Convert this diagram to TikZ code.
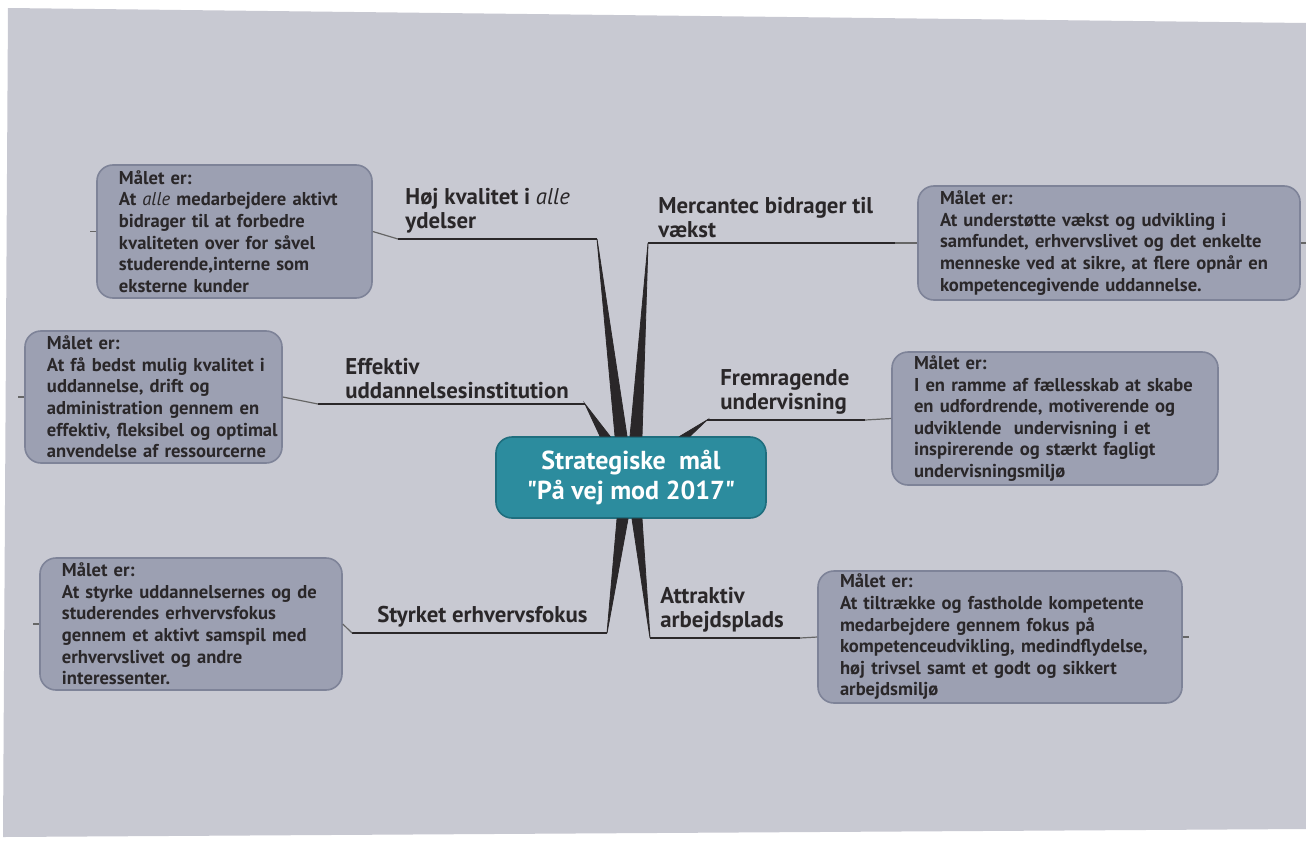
\documentclass[tikz,border=0pt]{standalone}
\usepackage{fontspec}
\setmainfont{PT Sans}
\newfontfamily\quotefont{PT Sans}
\usepackage{tikz}
\usetikzlibrary{calc}
\definecolor{slidegray}{HTML}{C8C9D2}
\definecolor{boxfill}{HTML}{9CA0B2}
\definecolor{boxedge}{HTML}{7E8398}
\definecolor{teal}{HTML}{2C8C9E}
\definecolor{tealedge}{HTML}{1F6E7E}
\definecolor{inkdark}{HTML}{2A2729}
\newcommand{\boxfont}{\bfseries\fontsize{9.3}{10.8}\selectfont}
\newcommand{\labelfont}{\bfseries\fontsize{11.4}{12}\selectfont}
\newcommand{\qmark}{{\quotefont"}}

\begin{document}
\begin{tikzpicture}[scale=0.175726]
\tikzstyle{goalbox}=[draw=boxedge, fill=boxfill, line width=0.8pt, rounded corners=8pt, align=left, inner xsep=11pt, inner ysep=0pt, text=inkdark, font=\boxfont, execute at begin node={\rightskip=-9pt plus 2em\relax}]
\tikzstyle{centrebox}=[draw=tealedge, fill=teal, line width=0.8pt, rounded corners=8pt, align=center, text=white, font=\bfseries\fontsize{13}{15}\selectfont]
\tikzstyle{branchlabel}=[anchor=south west, align=left, inner xsep=0pt, inner ysep=2pt, text=inkdark, font=\labelfont]
\tikzstyle{branchline}=[draw=inkdark, fill=inkdark, line width=1pt]
\tikzstyle{twig}=[draw=black!60, line width=0.6pt]
\useasboundingbox (0,0) rectangle (130.6,-84.4);
\fill [white] (0,0) rectangle (130.6,-84.4);
\fill [slidegray] (0.8,-0.8) -- (130.6,-2.3) -- (130.6,-82.9) -- (0.3,-83.7) -- cycle;
\node [centrebox, minimum width=135pt, minimum height=40.5pt] (goal) at (63.1,-47.75) {Strategiske\ \ mål\\\qmark På vej mod 2017\qmark};
\node [goalbox, text width=115.5pt, minimum height=66.5pt] (box-hoj) at (23.45,-23.15) {Målet er:\\At {\mdseries\itshape alle} medarbejdere aktivt\\bidrager til at forbedre\\kvaliteten over for såvel\\studerende,interne som\\eksterne kunder};
\node [goalbox, text width=169pt, minimum height=57pt] (box-merc) at (110.9,-24.3) {Målet er:\\At understøtte vækst og udvikling i\\samfundet, erhvervslivet og det enkelte\\menneske ved at sikre, at flere opnår en\\kompetencegivende uddannelse.};
\node [goalbox, text width=106.5pt, minimum height=66pt] (box-eff) at (15.35,-39.7) {Målet er:\\At få bedst mulig kvalitet i\\uddannelse, drift og\\administration gennem en\\effektiv, fleksibel og optimal\\anvendelse af ressourcerne};
\node [goalbox, text width=141pt, minimum height=66.5pt] (box-frem) at (105.5,-41.85) {Målet er:\\I en ramme af fællesskab at skabe\\en udfordrende, motiverende og\\udviklende\ \ undervisning i et\\inspirerende og stærkt fagligt\\undervisningsmiljø};
\node [goalbox, text width=129pt, minimum height=66pt] (box-styr) at (19.1,-62.4) {Målet er:\\At styrke uddannelsernes og de\\studerendes erhvervsfokus\\gennem et aktivt samspil med\\erhvervslivet og andre\\interessenter.};
\node [goalbox, text width=160pt, minimum height=66pt] (box-attr) at (100.0,-63.7) {Målet er:\\At tiltrække og fastholde kompetente\\medarbejdere gennem fokus på\\kompetenceudvikling, medindflydelse,\\høj trivsel samt et godt og sikkert\\arbejdsmiljø};
\node [branchlabel] (hoj) at (40.5,-23.8) {Høj kvalitet i {\mdseries\itshape alle}\\ydelser};
\node [branchlabel] (merc) at (65.8,-24.2) {Mercantec bidrager til\\vækst};
\node [branchlabel] (eff) at (34.5,-40.3) {Effektiv\\uddannelsesinstitution};
\node [branchlabel] (frem) at (72.0,-41.9) {Fremragende\\undervisning};
\node [branchlabel] (styr) at (37.7,-63.2) {Styrket erhvervsfokus};
\node [branchlabel] (attr) at (66.0,-63.7) {Attraktiv\\arbejdsplads};
\coordinate (hoj-l) at (39.8,-23.9);
\coordinate (hoj-r) at (59.7,-23.9);
\coordinate (merc-l) at (64.8,-24.3);
\coordinate (merc-r) at (89.5,-24.3);
\coordinate (eff-l) at (31.8,-40.4);
\coordinate (eff-r) at (58.5,-40.4);
\coordinate (frem-l) at (70.7,-42.0);
\coordinate (frem-r) at (86.5,-42.0);
\coordinate (styr-l) at (35.2,-63.3);
\coordinate (styr-r) at (60.7,-63.3);
\coordinate (attr-l) at (65.0,-63.8);
\coordinate (attr-r) at (80.0,-63.8);
\draw [branchline] (hoj-l) -- (hoj-r);
\draw [branchline] (merc-l) -- (merc-r);
\draw [branchline] (eff-l) -- (eff-r);
\draw [branchline] (frem-l) -- (frem-r);
\draw [branchline] (styr-l) -- (styr-r);
\draw [branchline] (attr-l) -- (attr-r);
\filldraw [branchline, line width=0.4pt] (hoj-r) -- ($(goal.north)+(-1.6,0)$) -- ($(goal.north)+(-0.4,0)$) -- cycle;
\filldraw [branchline, line width=0.4pt] (merc-l) -- ($(goal.north)+(-0.1,0)$) -- ($(goal.north)+(1.1,0)$) -- cycle;
\filldraw [branchline, line width=0.4pt] (eff-r) -- ($(goal.north)+(-3.1,0)$) -- ($(goal.north)+(-2.1,0)$) -- cycle;
\filldraw [branchline, line width=0.4pt] (frem-l) -- ($(goal.north)+(4.9,0)$) -- ($(goal.north)+(5.9,0)$) -- cycle;
\filldraw [branchline, line width=0.4pt] (styr-r) -- ($(goal.south)+(-1.4,0)$) -- ($(goal.south)+(-0.3,0)$) -- cycle;
\filldraw [branchline, line width=0.4pt] (attr-l) -- ($(goal.south)+(0.1,0)$) -- ($(goal.south)+(1.1,0)$) -- cycle;
\draw [twig] (box-hoj.east) -- (hoj-l);
\draw [twig] (merc-r) -- (box-merc.west);
\draw [twig] (box-eff.east) -- (eff-l);
\draw [twig] (frem-r) -- (box-frem.west);
\draw [twig] (box-styr.east) -- (styr-l);
\draw [twig] (attr-r) -- (box-attr.west);
\draw [twig] (box-hoj.west) -- ++(-0.6,0);
\draw [twig] (box-merc.east) -- ++(0.6,0);
\draw [twig] (box-eff.west) -- ++(-0.6,0);
\draw [twig] (box-styr.west) -- ++(-0.6,0);
\draw [twig] (box-attr.east) -- ++(0.6,0);
\end{tikzpicture}
\end{document}
